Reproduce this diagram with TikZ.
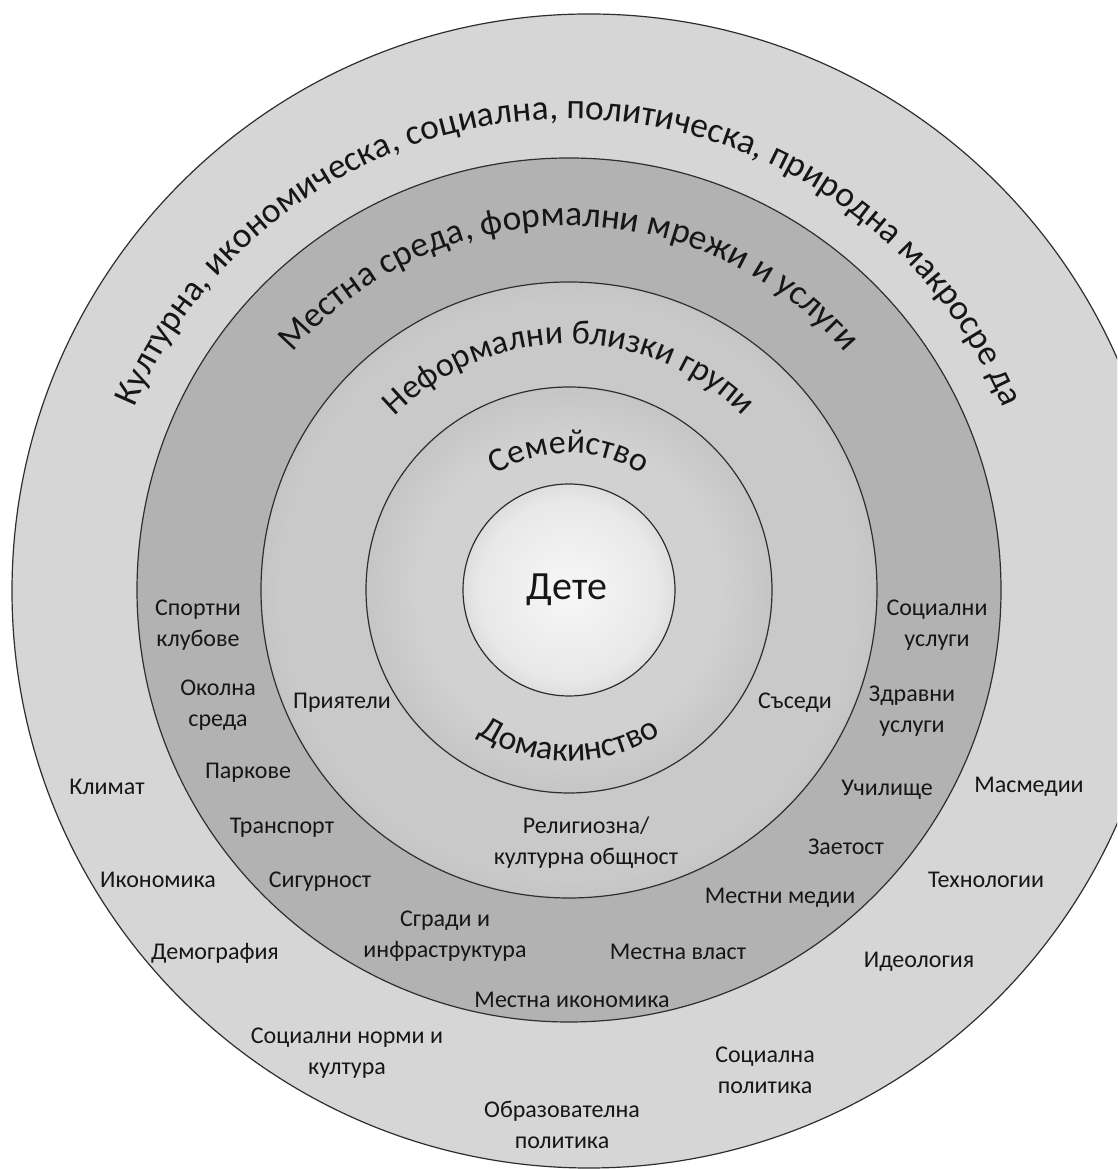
\documentclass[tikz,border=0pt]{standalone}
\usepackage{fontspec}
\setmainfont{Carlito}
\usetikzlibrary{decorations.text,calc}

\definecolor{txt}{HTML}{161616}
\definecolor{rim}{HTML}{2E2E2E}

% radial shadings: a filled circle's rim sits at about 35.4bp of the shading
\pgfdeclareradialshading{macroshade}{\pgfpoint{0bp}{0bp}}{color(0bp)=(black!16); color(26.5bp)=(black!16); color(31bp)=(black!22); color(35.4bp)=(black!35); color(50bp)=(black!35)}
\pgfdeclareradialshading{localshade}{\pgfpoint{0bp}{0bp}}{color(0bp)=(black!30); color(25.5bp)=(black!30); color(30.4bp)=(black!38); color(35.4bp)=(black!49); color(50bp)=(black!49)}
\pgfdeclareradialshading{informalshade}{\pgfpoint{0bp}{0bp}}{color(0bp)=(black!21); color(23.3bp)=(black!21); color(29.7bp)=(black!28); color(35.4bp)=(black!39); color(50bp)=(black!39)}
\pgfdeclareradialshading{familyshade}{\pgfpoint{0bp}{0bp}}{color(0bp)=(black!18); color(18.3bp)=(black!18); color(26.9bp)=(black!24); color(35.4bp)=(black!37); color(50bp)=(black!37)}
\pgfdeclareradialshading{childshade}{\pgfpoint{0bp}{0bp}}{color(0bp)=(black!3); color(21.2bp)=(black!9); color(35.4bp)=(black!24); color(50bp)=(black!24)}

\newcommand{\ringfont}{\fontsize{35.5}{42}\selectfont\color{txt}}
\newcommand{\innerfont}{\fontsize{34}{40}\selectfont\color{txt}}

\begin{document}
\begin{tikzpicture}[x=1pt,y=1pt,
  ringline/.style={draw=rim, line width=1.2pt},
  lbl/.style={font=\fontsize{24}{31}\selectfont, text=txt, align=center, inner sep=0pt},
  bigtxt/.style={font=\fontsize{40}{46}\selectfont, text=txt, inner sep=0pt}]
\useasboundingbox (0,0) rectangle (1117,1169);
\clip (0,0) rectangle (1117,1169);

\coordinate (C) at (569,579);
\coordinate (O) at (589,578);

% concentric discs, outermost first
\shade[shading=macroshade] (O) circle (577);
\draw[ringline] (O) circle (577);
\shade[shading=localshade] (C) circle (432);
\draw[ringline] (C) circle (432);
\shade[shading=informalshade] (C) circle (308);
\draw[ringline] (C) circle (308);
\shade[shading=familyshade] (C) circle (203);
\draw[ringline] (C) circle (203);
\shade[shading=childshade] (C) circle (106);
\draw[ringline] (C) circle (106);

% curved ring titles
\path[decorate, decoration={text along path, text align=center,
  text={|\ringfont|Културна, икономическа, социална, политическа, природна макросре да}}]
  ($(C)+(178:471)$) arc[start angle=178, end angle=2, radius=471];
\path[decorate, decoration={text along path, text align=center,
  text={|\ringfont|Местна среда, формални мрежи и услуги}}]
  ($(C)+(172:364)$) arc[start angle=172, end angle=8, radius=364];
\path[decorate, decoration={text along path, text align=center,
  text={|\innerfont|Неформални близки групи}}]
  ($(C)+(170:246)$) arc[start angle=170, end angle=10, radius=246];
\path[decorate, decoration={text along path, text align=center,
  text={|\innerfont|Семейство}}]
  ($(C)+(160:137)$) arc[start angle=160, end angle=20, radius=137];
\path[decorate, decoration={text along path, text align=center,
  text={|\innerfont|Домакинство}}]
  ($(C)+(200:171)$) arc[start angle=200, end angle=340, radius=171];

\node[bigtxt] (child) at (567,579) {Дете};

% local environment ring
\node[lbl] (sport)   at (198,544) {Спортни\\клубове};
\node[lbl] (env)     at (218,464) {Околна\\среда};
\node[lbl] (parks)   at (248,396) {Паркове};
\node[lbl] (transp)  at (282,341) {Транспорт};
\node[lbl] (safety)  at (320,287) {Сигурност};
\node[lbl] (build)   at (445,233) {Сгради и\\инфраструктура};
\node[lbl] (leco)    at (572,169) {Местна икономика};
\node[lbl] (lgov)    at (678,217) {Местна власт};
\node[lbl] (lmedia)  at (780,271) {Местни медии};
\node[lbl] (employ)  at (846,322) {Заетост};
\node[lbl] (school)  at (887,379) {Училище};
\node[lbl] (health)  at (912,458) {Здравни\\услуги};
\node[lbl] (social)  at (937,544) {Социални\\услуги};

% informal groups ring
\node[lbl] (friends) at (342,466) {Приятели};
\node[lbl] (neigh)   at (795,466) {Съседи};
\node[lbl] (relig)   at (586,326) {Религиозна/\\културна общност};

% macro ring
\node[lbl] (climate) at (107,382) {Климат};
\node[lbl] (economy) at (158,289) {Икономика};
\node[lbl] (demog)   at (215,216) {Демография};
\node[lbl] (norms)   at (347,116) {Социални норми и\\култура};
\node[lbl] (edupol)  at (562,44)  {Образователна\\политика};
\node[lbl] (socpol)  at (765,99)  {Социална\\политика};
\node[lbl] (ideol)   at (919,207) {Идеология};
\node[lbl] (tech)    at (986,289) {Технологии};
\node[lbl] (mass)    at (1029,382) {Масмедии};
\end{tikzpicture}
\end{document}
